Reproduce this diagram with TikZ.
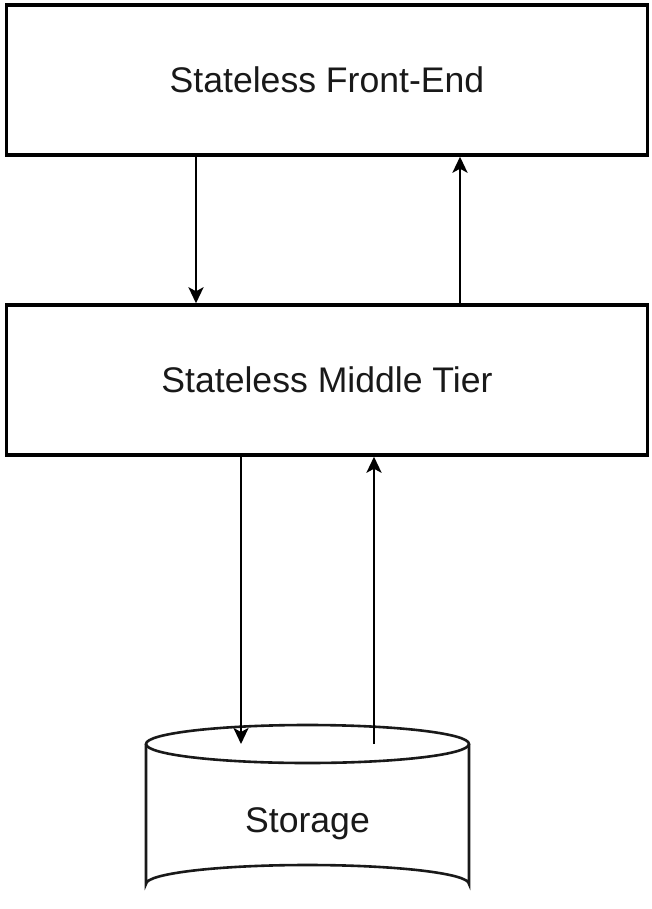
\documentclass[tikz,border=0pt]{standalone}
\usepackage{fontspec}
\setmainfont{Liberation Sans}
\usetikzlibrary{arrows.meta}
\begin{document}
\begin{tikzpicture}[x=1pt,y=-1pt,
  tier/.style={draw=black,line width=3.4pt,minimum width=641pt,minimum height=150pt,inner sep=0pt,font=\fontsize{35.6}{42}\selectfont,text=black!90},
  link/.style={draw=black,line width=2.8pt,-{Stealth[length=16pt,width=15pt,inset=4pt]}},
  cyl/.style={draw=black!90,line width=2.6pt}]
\useasboundingbox (0,0) rectangle (651,909);
\node[tier] (fe) at (327,80) {Stateless Front-End};
\node[tier] (mt) at (327,380) {Stateless Middle Tier};
% storage cylinder
\path[cyl,fill=white] (146,744) -- (146,884) arc[start angle=180,end angle=360,x radius=161.5,y radius=19] -- (469,744);
\draw[cyl] (307.5,744) ellipse[x radius=161.5,y radius=19];
\node[font=\fontsize{35.6}{42}\selectfont,text=black!90] (st) at (307.5,824) {Storage};
\coordinate (sin) at (241,744);
\coordinate (sout) at (374,744);
\draw[link] (fe.south -| 196,0) -- (mt.north -| 196,0);
\draw[link] (mt.north -| 460,0) -- (fe.south -| 460,0);
\draw[link] (mt.south -| 241,0) -- (sin);
\draw[link] (sout) -- (mt.south -| 374,0);
\end{tikzpicture}
\end{document}
